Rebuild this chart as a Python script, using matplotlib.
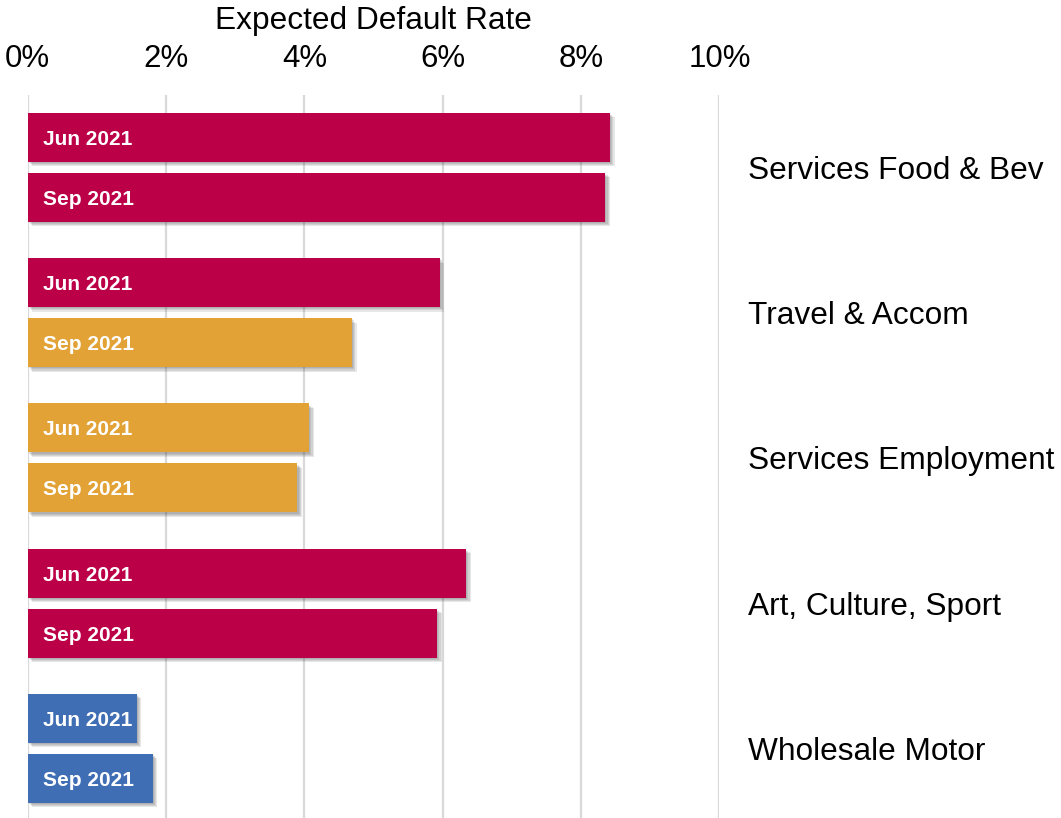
import numpy as np
import matplotlib
matplotlib.use("Agg")
import matplotlib.pyplot as plt
import matplotlib.patheffects as pe

plt.rcParams['font.family'] = ['Liberation Sans', 'DejaVu Sans']

# data
categories = ["Services Food & Bev", "Travel & Accom", "Services Employment",
              "Art, Culture, Sport", "Wholesale Motor"]
jun_vals = [8.42, 5.96, 4.07, 6.34, 1.58]
sep_vals = [8.35, 4.69, 3.90, 5.92, 1.81]
jun_colors = ["#BC0047", "#BC0047", "#E2A236", "#BC0047", "#3F6EB5"]
sep_colors = ["#BC0047", "#E2A236", "#E2A236", "#BC0047", "#3F6EB5"]
period_labels = ["Jun 2021", "Sep 2021"]
xticks = [0, 2, 4, 6, 8, 10]

fig = plt.figure(figsize=(10.61, 8.18), dpi=100)
ax = fig.add_axes([0.02615, 0.0, 0.6519, 0.8839])

y = np.arange(len(categories))
off = 0.2066
h = 0.337
# soft drop shadow built from a few faint offset copies
shadow = [pe.SimplePatchShadow(offset=(o, -o), shadow_rgbFace='#404040', alpha=0.12)
          for o in (0.8, 1.6, 2.4, 3.2)] + [pe.Normal()]

for vals, cols, d, lab in [(jun_vals, jun_colors, -off, period_labels[0]),
                           (sep_vals, sep_colors, off, period_labels[1])]:
    bars = ax.barh(y + d, vals, height=h, color=cols, zorder=3)
    for b in bars:
        b.set_path_effects(shadow)
    for yi in y:
        ax.annotate(lab, xy=(0, yi + d), xytext=(11, 0), textcoords='offset points',
                    ha='left', va='center_baseline', color='white', fontsize=15,
                    fontweight='bold', zorder=4)

ax.set_xlim(0, 10)
ax.set_ylim(4.479, -0.499)
ax.set_xticks(xticks)
ax.set_xticklabels([f"{t}%" for t in xticks])
ax.xaxis.tick_top()
ax.xaxis.set_label_position('top')
ax.set_xlabel("Expected Default Rate", fontsize=22.8, labelpad=11)
ax.tick_params(axis='x', length=0, labelsize=22.5, pad=15)

ax.set_yticks(y)
ax.set_yticklabels(categories)
ax.yaxis.tick_right()
ax.tick_params(axis='y', length=0, labelsize=22.8, pad=20.5)

ax.grid(axis='x', color='#D9D9D9', linewidth=1.6, zorder=0)
ax.set_axisbelow(True)
for s in ax.spines.values():
    s.set_visible(False)

fig.savefig("out.png", dpi=100)
